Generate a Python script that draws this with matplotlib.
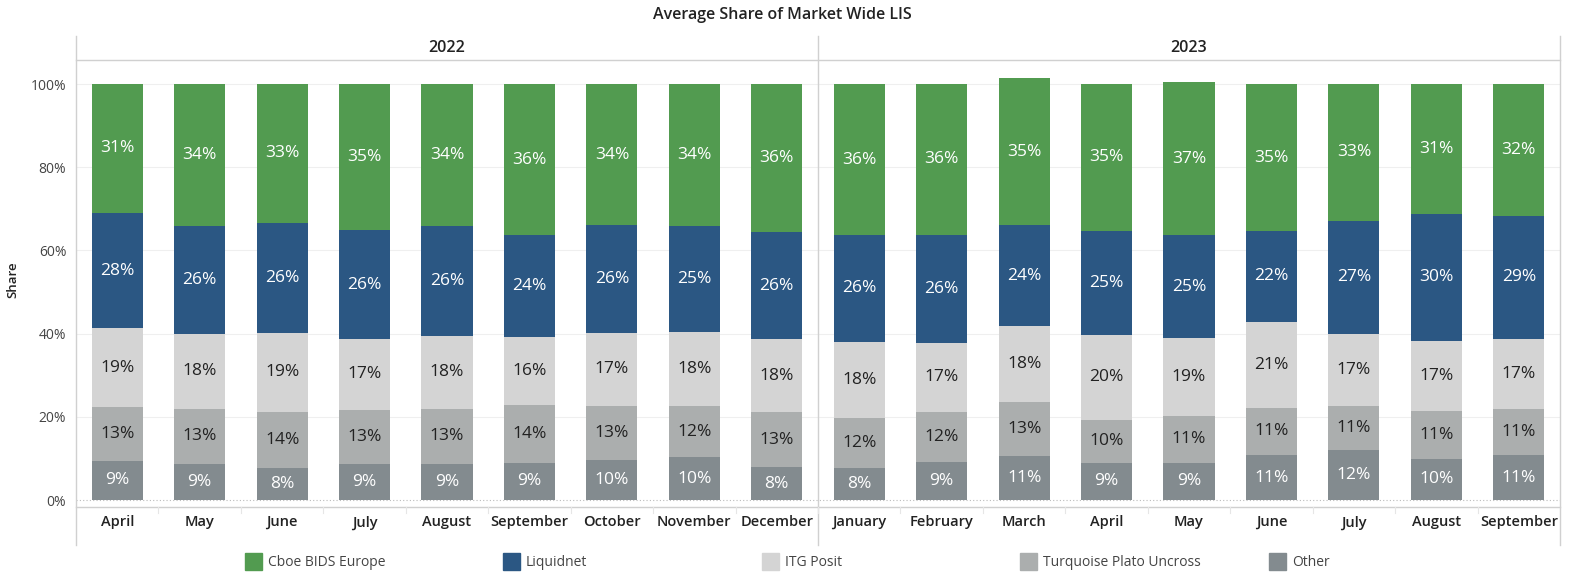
import matplotlib
matplotlib.use("Agg")
import matplotlib.pyplot as plt
from matplotlib.lines import Line2D
from matplotlib.patches import Rectangle
import numpy as np

plt.rcParams["font.family"] = ["Open Sans", "DejaVu Sans"]

years = ["2022", "2023"]
months_2022 = ["April", "May", "June", "July", "August", "September", "October", "November", "December"]
months_2023 = ["January", "February", "March", "April", "May", "June", "July", "August", "September"]
months = months_2022 + months_2023

series = ["Cboe BIDS Europe", "Liquidnet", "ITG Posit", "Turquoise Plato Uncross", "Other"]
colors = ["#529b50", "#2b5783", "#d4d4d4", "#abaeae", "#838b8f"]
text_colors = ["white", "white", "#222222", "#222222", "white"]

# shares in %, bottom of stack first
other = [9.4, 8.7, 7.6, 8.6, 8.7, 9.0, 9.6, 10.3, 7.9,
         7.7, 9.2, 10.6, 8.9, 8.9, 10.8, 12.0, 9.9, 10.8]
turquoise = [13.0, 13.2, 13.6, 13.1, 13.2, 13.9, 13.1, 12.3, 13.2,
             12.0, 11.9, 13.0, 10.4, 11.3, 11.4, 10.6, 11.4, 11.1]
itg = [18.9, 18.0, 19.0, 17.1, 17.6, 16.4, 17.4, 17.8, 17.6,
       18.4, 16.7, 18.2, 20.4, 18.8, 20.7, 17.4, 17.0, 16.9]
liquidnet = [27.7, 26.0, 26.4, 26.0, 26.4, 24.3, 25.9, 25.4, 25.7,
             25.6, 26.0, 24.2, 25.0, 24.6, 21.7, 27.1, 30.5, 29.4]
cboe = [31.0, 34.1, 33.4, 35.2, 34.1, 36.4, 34.0, 34.2, 35.6,
        36.3, 36.2, 35.4, 35.3, 36.9, 35.4, 32.9, 31.2, 31.8]

W, H = 1569, 573
fig = plt.figure(figsize=(W / 100, H / 100), dpi=100)


def fx(px):
    return px / W


def fy(py):
    return 1 - py / H


# plot area in pixels
left, right, top, bottom = 76, 1560, 60, 507
ax = fig.add_axes([fx(left), fy(bottom), fx(right) - fx(left), fy(top) - fy(bottom)])

x = np.arange(len(months))
stack = [other, turquoise, itg, liquidnet, cboe]
stack_colors = colors[::-1]
stack_text = text_colors[::-1]
base = np.zeros(len(months))
for vals, col, tcol in zip(stack, stack_colors, stack_text):
    vals = np.array(vals)
    ax.bar(x, vals, bottom=base, width=0.62, color=col, edgecolor="none", zorder=3)
    for xi, b, v in zip(x, base, vals):
        ax.text(xi, b + v / 2, f"{v:.0f}%", ha="center", va="center",
                fontsize=12.5, color=tcol, zorder=4)
    base += vals

ax.set_xlim(-0.5, len(months) - 0.5)
ax.set_ylim((500 - bottom) / 4.16, (500 - top) / 4.16)
ax.set_yticks([0, 20, 40, 60, 80, 100])
ax.set_yticklabels(["0%", "20%", "40%", "60%", "80%", "100%"])
ax.tick_params(axis="y", length=0, labelsize=10, labelcolor="#444444", pad=7)
ax.set_xticks(x)
ax.set_xticklabels(months)
ax.tick_params(axis="x", length=0, labelsize=10.5, labelcolor="#222222", pad=6)
for lab in ax.get_xticklabels():
    lab.set_fontweight("semibold")
for s in ax.spines.values():
    s.set_visible(False)
for yv in [20, 40, 60, 80, 100]:
    ax.axhline(yv, color="#efefef", lw=0.8, zorder=1)
ax.axhline(0, color="#bbbbbb", lw=0.8, ls=(0, (1, 2)), zorder=2)
fig.text(fx(13), fy(280), "Share", rotation=90, ha="center", va="center",
         fontsize=9.5, fontweight="semibold", color="#222222")

# frame and header lines
line_col = "#d0d0d0"
fig.add_artist(Line2D([fx(left), fx(left)], [fy(36), fy(545)], color=line_col, lw=1))
fig.add_artist(Line2D([fx(818), fx(818)], [fy(36), fy(545)], color=line_col, lw=1))
fig.add_artist(Line2D([fx(right), fx(right)], [fy(36), fy(545)], color=line_col, lw=1))
fig.add_artist(Line2D([fx(left), fx(right)], [fy(top), fy(top)], color=line_col, lw=1))
fig.add_artist(Line2D([fx(left), fx(right)], [fy(bottom), fy(bottom)], color=line_col, lw=1))
step = (right - left) / len(months)
for i in range(1, len(months)):
    xp = left + i * step
    fig.add_artist(Line2D([fx(xp), fx(xp)], [fy(bottom), fy(bottom + 6)], color="#e6e6e6", lw=0.8))

fig.text(fx((left + 818) / 2), fy(48), years[0], ha="center", va="center",
         fontsize=11.5, fontweight="semibold", color="#222222")
fig.text(fx((818 + right) / 2), fy(48), years[1], ha="center", va="center",
         fontsize=11.5, fontweight="semibold", color="#222222")
fig.text(fx(782), fy(15), "Average Share of Market Wide LIS", ha="center", va="center",
         fontsize=11.5, fontweight="semibold", color="#222222")

# legend
leg_x = [245, 503, 762, 1020, 1269]
for lx, name, col in zip(leg_x, series, colors):
    fig.add_artist(Rectangle((fx(lx), fy(570)), fx(17), fy(553) - fy(570),
                             transform=fig.transFigure, color=col))
    fig.text(fx(lx + 23), fy(562), name, ha="left", va="center", fontsize=10, color="#444444")

fig.savefig("out.png", dpi=100)
